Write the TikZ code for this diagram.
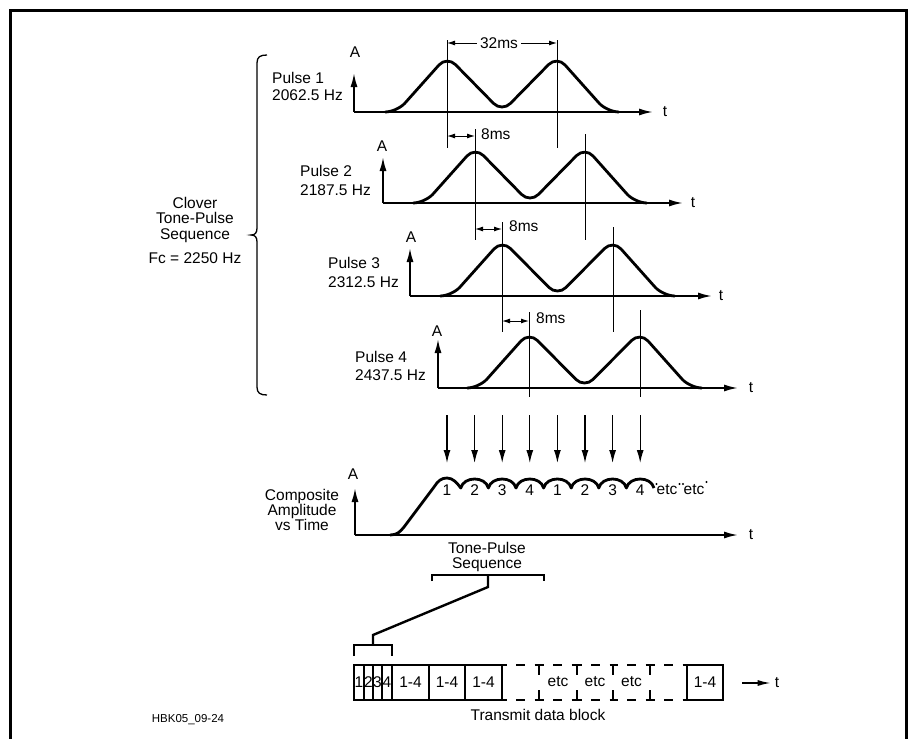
\documentclass[tikz,border=0pt]{standalone}
\usepackage{fontspec}
\setmainfont{Liberation Sans}
\usetikzlibrary{arrows.meta}
\begin{document}
\begin{tikzpicture}[x=1pt,y=-1pt,
  txt/.style={inner sep=0pt, font=\fontsize{15.5}{18}\selectfont},
  small/.style={inner sep=0pt, font=\fontsize{11.5}{13}\selectfont},
  pulse/.style={line width=2.8pt, rounded corners=12pt, line join=round},
  comp/.style={line width=2.8pt, line join=round},
  axis/.style={line width=1.8pt, -{Latex[length=14pt,width=7pt]}},
  guide/.style={line width=1pt},
  dim/.style={line width=1pt, {Latex[length=8pt,width=5pt]}-{Latex[length=8pt,width=5pt]}},
  dimr/.style={line width=1pt, -{Latex[length=8pt,width=5pt]}},
  down/.style={line width=1.2pt, -{Latex[length=13pt,width=7pt]}},
  frame/.style={line width=3pt, line join=miter},
  brk/.style={line width=2.4pt, line join=miter},
  bracestyle/.style={line width=1.3pt},
  cell/.style={line width=1.8pt},
  dcell/.style={line width=1.8pt, dash pattern=on 9pt off 9.5pt, dash phase=4.5pt},
  dvert/.style={line width=1.8pt, dash pattern=on 10pt off 15pt}
]
\useasboundingbox (0,0) rectangle (911,739);

% frame
\draw[frame] (10,739) -- (10,10) -- (906,10) -- (906,739);

% ---------- Row 1 ----------
\draw[axis] (354,112) -- (354,73);
\draw[axis] (354,112) -- (653,112);
\node[txt] (A1) at (355,52) {A};
\node[txt] (t1) at (665,112) {t};
\node[txt,anchor=base west] (p1a) at (272,83) {Pulse 1};
\node[txt,anchor=base west] (p1b) at (272,100) {2062.5 Hz};
\draw[pulse] (385,112) -- (397,112) -- (447,56) -- (502,112) -- (557,56) -- (607,112) -- (619,112);
\draw[guide] (447,40) -- (447,148);
\draw[guide] (557,40) -- (557,148);
\node[txt, inner xsep=3pt] (d32) at (499,43) {32ms};
\draw[dimr] (d32.west) -- (447,43);
\draw[dimr] (d32.east) -- (557,43);

% ---------- Row 2 ----------
\draw[axis] (383,203) -- (383,157);
\draw[axis] (383,203) -- (683,203);
\node[txt] (A2) at (382,146) {A};
\node[txt] (t2) at (693,203) {t};
\node[txt,anchor=base west] (p2a) at (300,176) {Pulse 2};
\node[txt,anchor=base west] (p2b) at (300,195) {2187.5 Hz};
\draw[pulse] (413,203) -- (425,203) -- (475,147) -- (530,203) -- (585,147) -- (635,203) -- (647,203);
\draw[guide] (475,129) -- (475,240);
\draw[guide] (585,134) -- (585,240);
\draw[dim] (447,136) -- (475,136);
\node[txt,anchor=west] (e2) at (481,134) {8ms};

% ---------- Row 3 ----------
\draw[axis] (410,296) -- (410,248);
\draw[axis] (410,296) -- (712,296);
\node[txt] (A3) at (411,237) {A};
\node[txt] (t3) at (721,296) {t};
\node[txt,anchor=base west] (p3a) at (328,268) {Pulse 3};
\node[txt,anchor=base west] (p3b) at (328,287) {2312.5 Hz};
\draw[pulse] (440,296) -- (452,296) -- (502,240) -- (557.5,296) -- (613,240) -- (663,296) -- (675,296);
\draw[guide] (502,222) -- (502,332);
\draw[guide] (613,227) -- (613,332);
\draw[dim] (475,229) -- (502,229);
\node[txt,anchor=west] (e3) at (509,226) {8ms};

% ---------- Row 4 ----------
\draw[axis] (438,388) -- (438,339);
\draw[axis] (438,388) -- (738,388);
\node[txt] (A4) at (437,331) {A};
\node[txt] (t4) at (751,388) {t};
\node[txt,anchor=base west] (p4a) at (355,362) {Pulse 4};
\node[txt,anchor=base west] (p4b) at (355,380) {2437.5 Hz};
\draw[pulse] (467,388) -- (479,388) -- (529,332) -- (584.5,388) -- (640,332) -- (690,388) -- (702,388);
\draw[guide] (529,312) -- (529,397);
\draw[guide] (640,310) -- (640,397);
\draw[dim] (502,321) -- (529,321);
\node[txt,anchor=west] (e4) at (536,318) {8ms};

% ---------- brace and its label ----------
\draw[bracestyle] (267,55) .. controls (260,55) and (257,57) .. (257,63) -- (257,228)
  .. controls (257,233) and (255,235) .. (251,235)
  .. controls (255,235) and (257,237) .. (257,242) -- (257,387)
  .. controls (257,393) and (260,395) .. (267,395);
\node[txt,anchor=base] (c1) at (195,208) {Clover};
\node[txt,anchor=base] (c2) at (195,223.5) {Tone-Pulse};
\node[txt,anchor=base] (c3) at (195,239) {Sequence};
\node[txt,anchor=base] (c4) at (195,263) {Fc = 2250 Hz};

% ---------- down arrows ----------
\foreach \x in {447,474.6,502.2,529.8,557.4,585,612.6,640.2}
  \draw[down] (\x,415) -- (\x,463);

% ---------- composite ----------
\draw[axis] (355,535) -- (355,488);
\draw[axis] (355,535) -- (738,535);
\node[txt] (A5) at (353,474) {A};
\node[txt] (t5) at (751,535) {t};
\node[txt,anchor=base] (ca) at (302,500) {Composite};
\node[txt,anchor=base] (cb) at (302,515) {Amplitude};
\node[txt,anchor=base] (cc) at (302,530) {vs Time};
\draw[comp] (390,535) .. controls (397,535) and (400,532) .. (404,527) -- (434,487)
  .. controls (438,481) and (441,478) .. (447,478) .. controls (453,478) and (457,483) .. (460.8,488)
  .. controls (463.8,476) and (485.4,476) .. (488.4,488)
  .. controls (491.4,476) and (513.0,476) .. (516.0,488)
  .. controls (519.0,476) and (540.6,476) .. (543.6,488)
  .. controls (546.6,476) and (568.2,476) .. (571.2,488)
  .. controls (574.2,476) and (595.8,476) .. (598.8,488)
  .. controls (601.8,476) and (623.4,476) .. (626.4,488)
  .. controls (629.4,476) and (651.0,476) .. (654.0,488);
\foreach \x/\k [count=\i] in {447/1,474.6/2,502.2/3,529.8/4,557.4/1,585/2,612.6/3,640.2/4}
  \node[txt] (num\i) at (\x,490) {\k};
\node[txt] (etc1) at (667,490) {etc};
\node[txt] (etc2) at (694,490) {etc};
\fill (656.5,484) circle (1.2);
\fill (679.5,484) circle (1.2);
\fill (683,484) circle (1.2);
\fill (706.5,482) circle (1.2);

% ---------- tone-pulse sequence bracket ----------
\node[txt,anchor=base] (ts1) at (487,553) {Tone-Pulse};
\node[txt,anchor=base] (ts2) at (487,568) {Sequence};
\draw[brk] (432,581) -- (432,575) -- (544,575) -- (544,581);
\draw[brk] (488,575) -- (488,587) -- (373,635) -- (373,645);
\draw[brk] (354,656) -- (354,645) -- (392,645) -- (392,656);

% ---------- transmit data block ----------
\draw[cell] (354,665) rectangle (502,700);
\foreach \x in {364,373,382,392,429,465}
  \draw[cell] (\x,665) -- (\x,700);
\draw[cell] (687,665) rectangle (723,700);
\foreach \a/\b in {502/539,539/577,577/613,613/650,650/687} {
  \draw[dcell] (\a,665) -- (\b,665);
  \draw[dcell] (\a,700) -- (\b,700);
}
\foreach \x in {539,577,613,650}
  \draw[dvert] (\x,665) -- (\x,700);
\foreach \x/\k [count=\i] in {359/1,368.5/2,377.5/3,387/4}
  \node[txt] (s\i) at (\x,682) {\k};
\foreach \x [count=\i] in {410.5,447,483.5,705}
  \node[txt] (b\i) at (\x,682) {1-4};
\foreach \x [count=\i] in {558,595,631.5}
  \node[txt] (et\i) at (\x,682) {etc};
\node[txt] (t6) at (777,683) {t};
\coordinate (arrstart) at (742,683);
\draw[line width=1.5pt, -{Latex[length=13pt,width=6pt]}] (arrstart) -- ([xshift=-4pt]t6.west);
\node[txt,anchor=base] (tdb) at (538,720) {Transmit data block};
\node[small,anchor=base] (hbk) at (188,722) {HBK05\_09-24};
\end{tikzpicture}
\end{document}
